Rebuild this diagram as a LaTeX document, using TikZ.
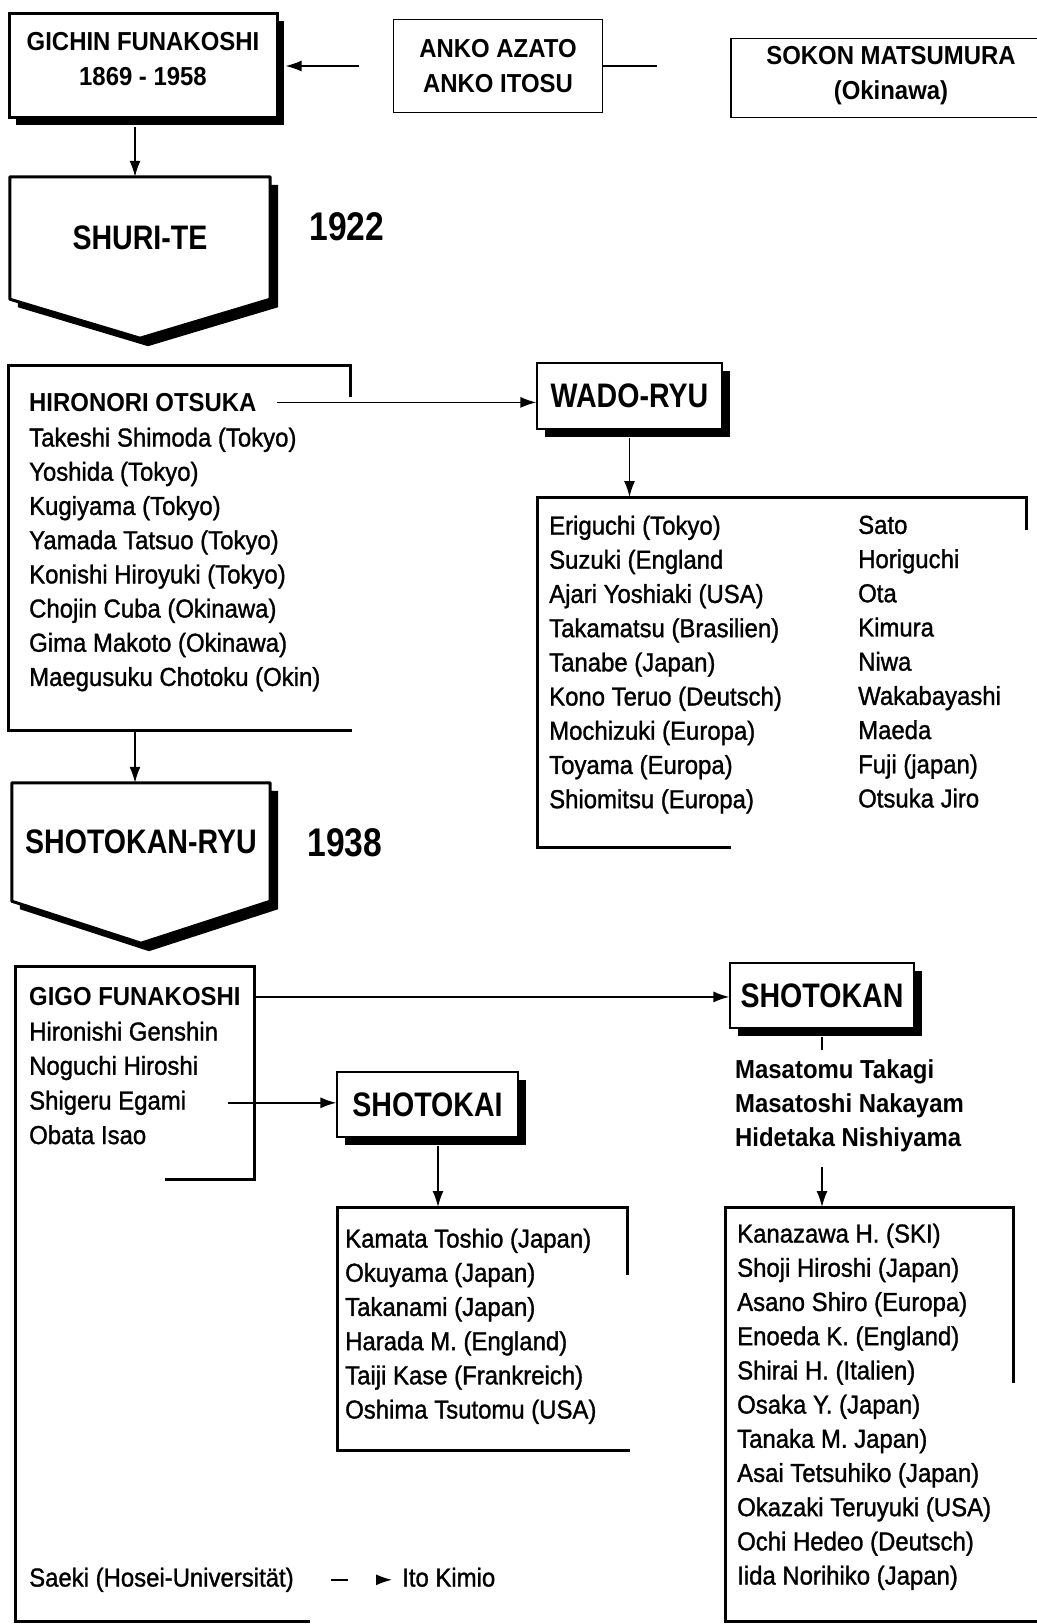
\documentclass[tikz,border=0pt]{standalone}
\usepackage{fontspec}
\setmainfont{Liberation Sans}[FakeStretch=0.92,UprightFeatures={FakeBold=1.2}]
\newfontfamily\condfont{Liberation Sans}[FakeStretch=0.84]
\usetikzlibrary{arrows.meta,positioning,shadows,backgrounds}

% pointed box behind a node: #1 node, #2 depth of the point
\newcommand{\pointbox}[2]{%
  \begin{scope}[on background layer]
    \fill ([xshift=8pt,yshift=-8pt]#1.north west)--([xshift=8pt,yshift=-8pt]#1.north east)
      --([xshift=8pt,yshift=-8pt]#1.south east)--([xshift=8pt,yshift=-8pt-#2]#1.south)
      --([xshift=8pt,yshift=-8pt]#1.south west)--cycle;
    \draw[line width=3pt,fill=white,line join=round] (#1.north west)--(#1.north east)
      --(#1.south east)--([yshift=-#2]#1.south)--(#1.south west)--cycle;
  \end{scope}}

\begin{document}
\fontsize{26}{34.2}\selectfont
\begin{tikzpicture}[x=1pt,y=-1pt]

      \tikzstyle{namebox}=[draw,line width=3pt,fill=white,
        align=center,font=\bfseries,text depth=14pt,
        drop shadow={shadow xshift=7pt,shadow yshift=-7pt,
          opacity=1,fill=black}]
      \tikzstyle{thinbox}=[draw,line width=1.2pt,align=center,
        font=\bfseries]
      \tikzstyle{ryubox}=[draw,line width=1.2pt,fill=white,
        inner sep=0pt,font=\condfont\bfseries\fontsize{34}{40}\selectfont,
        drop shadow={shadow xshift=8pt,shadow yshift=-8pt,
          opacity=1,fill=black}]
      \tikzstyle{arrowbody}=[inner sep=0pt,
        font=\condfont\bfseries\fontsize{34}{40}\selectfont]
      \tikzstyle{yeartext}=[inner sep=0pt,
        font=\condfont\bfseries\fontsize{40}{48}\selectfont]
      \tikzstyle{names}=[anchor=north west,inner sep=0pt,align=left]
      \tikzstyle{openframe}=[line width=3pt]
      \tikzstyle{link}=[line width=1.5pt,
        -{Latex[length=16pt,width=11pt]}]

      \useasboundingbox (0,0) rectangle (1036,1624);
      \begin{scope}[on background layer]
        \fill[white] (0,0) rectangle (1036,1624);
      \end{scope}

      % masters
      \node(gichin)[namebox,minimum width=268pt,minimum height=104pt]
        at (143,66){GICHIN FUNAKOSHI\\1869 - 1958};
      \node(anko)[thinbox,minimum width=209pt,minimum height=93pt]
        at (498,66){ANKO AZATO\\ANKO ITOSU};
      \node(sokon)[thinbox,minimum width=320pt,minimum height=75pt,
        text depth=10pt] at (891,78){SOKON MATSUMURA\\(Okinawa)};

      \draw[link,shorten <=34pt]
      (anko.west)--([xshift=7pt]gichin.east);
      \draw[line width=1.5pt,shorten >=73pt]
      (anko.east)--(anko.east-|sokon.west);

      % shuri-te
      \node(shuri)[arrowbody,minimum width=260pt,minimum height=122pt]
        at (140,238){SHURI-TE};
      \pointbox{shuri}{39pt}
      \node(year1)[yeartext] at (347,227){1922};

      \draw[link]
      ([xshift=-8pt,yshift=-8pt]gichin.south)--([xshift=-5pt]shuri.north);

      % wado-ryu
      \draw[openframe](350,397)--(350,365)--(8,365)--(8,730)--(352,730);
      \coordinate(otsukabottom) at (135,730);
      \node(otsuka)[names,font=\bfseries] at (29,393){HIRONORI OTSUKA};
      \node(otsukalist)[names] at (29,427.5){Takeshi Shimoda (Tokyo)\\
        Yoshida (Tokyo)\\Kugiyama (Tokyo)\\Yamada Tatsuo (Tokyo)\\
        Konishi Hiroyuki (Tokyo)\\Chojin Cuba (Okinawa)\\
        Gima Makoto (Okinawa)\\Maegusuku Chotoku (Okin)};

      \node(wado)[ryubox,minimum width=185pt,minimum height=66pt]
        at (629.5,396){WADO-RYU};
      \draw[link,shorten <=20pt]
      (otsuka.east)--(otsuka.east-|wado.west);

      \coordinate(wadotop) at (629.5,497);
      \draw[link,shorten <=8pt](wado.south)--(wadotop);

      \draw[openframe](1026,530)--(1026,497)--(537,497)--(537,847)--(731,847);
      \node(wadolist1)[names] at (549,515.5){Eriguchi (Tokyo)\\
        Suzuki (England\\Ajari Yoshiaki (USA)\\Takamatsu (Brasilien)\\
        Tanabe (Japan)\\Kono Teruo (Deutsch)\\Mochizuki (Europa)\\
        Toyama (Europa)\\Shiomitsu (Europa)};
      \node(wadolist2)[names] at (858,515.5){Sato\\Horiguchi\\Ota\\
        Kimura\\Niwa\\Wakabayashi\\Maeda\\Fuji (japan)\\Otsuka Jiro};

      % shotokan-ryu
      \node(shotokanryu)[arrowbody,minimum width=258pt,minimum height=118pt]
        at (141,842){SHOTOKAN-RYU};
      \pointbox{shotokanryu}{42pt}
      \node(year2)[yeartext] at (345,843){1938};

      \draw[link](otsukabottom)--(otsukabottom|-shotokanryu.north);

      % gigo funakoshi
      \draw[openframe](165,1179)--(254,1179)--(254,966)--(15,966)
        --(15,1621)--(310,1621);
      \node(gigo)[names,font=\bfseries] at (29,987.5){GIGO FUNAKOSHI};
      \node(gigolist)[names] at (29,1021.5){Hironishi Genshin\\
        Noguchi Hiroshi};
      \node(egami)[names] at (29,1090.5){Shigeru Egami};
      \node(obata)[names] at (29,1125){Obata Isao};

      \node(shotokan)[ryubox,minimum width=184pt,minimum height=65pt]
        at (822,995.5){SHOTOKAN};
      \draw[link,shorten <=14pt]
      (gigo.east)--(gigo.east-|shotokan.west);

      \node(shotokai)[ryubox,minimum width=181pt,minimum height=65pt]
        at (427.5,1104.5){SHOTOKAI};
      \draw[link,shorten <=42pt]
      (egami.east)--(egami.east-|shotokai.west);

      % shotokai
      \coordinate(kaitop) at (438,1207);
      \draw[link,shorten <=8pt](shotokai.south-|kaitop)--(kaitop);
      \draw[openframe](627,1275)--(627,1207)--(337,1207)--(337,1450)--(630,1450);
      \node(kailist)[names] at (345,1228.5){Kamata Toshio (Japan)\\
        Okuyama (Japan)\\Takanami (Japan)\\Harada M. (England)\\
        Taiji Kase (Frankreich)\\Oshima Tsutomu (USA)};

      % shotokan
      \coordinate(kantick) at (822,1050);
      \draw[line width=1.5pt,shorten <=8pt](shotokan.south)--(kantick);
      \node(kannames)[names,font=\bfseries] at (735,1059.5){Masatomu Takagi\\
        Masatoshi Nakayam\\Hidetaka Nishiyama};

      \coordinate(kantop) at (822,1207);
      \draw[link,shorten <=14pt](kannames.south-|kantop)--(kantop);
      \draw[openframe](1013,1383)--(1013,1207)--(725,1207)--(725,1621)--(1040,1621);
      \node(kanlist)[names] at (737,1223.5){Kanazawa H. (SKI)\\
        Shoji Hiroshi (Japan)\\Asano Shiro (Europa)\\Enoeda K. (England)\\
        Shirai H. (Italien)\\Osaka Y. (Japan)\\Tanaka M. Japan)\\
        Asai Tetsuhiko (Japan)\\Okazaki Teruyuki (USA)\\
        Ochi Hedeo (Deutsch)\\Iida Norihiko (Japan)};

      % saeki
      \node(saeki)[names] at (29,1567.5){Saeki (Hosei-Universität)};
      \node(ito)[names] at (402,1567.5){Ito Kimio};
      \draw[link,dash pattern=on 17pt off 50pt,shorten <=37pt,shorten >=10pt]
      (saeki.east)--(saeki.east-|ito.west);

    \end{tikzpicture}
\end{document}
